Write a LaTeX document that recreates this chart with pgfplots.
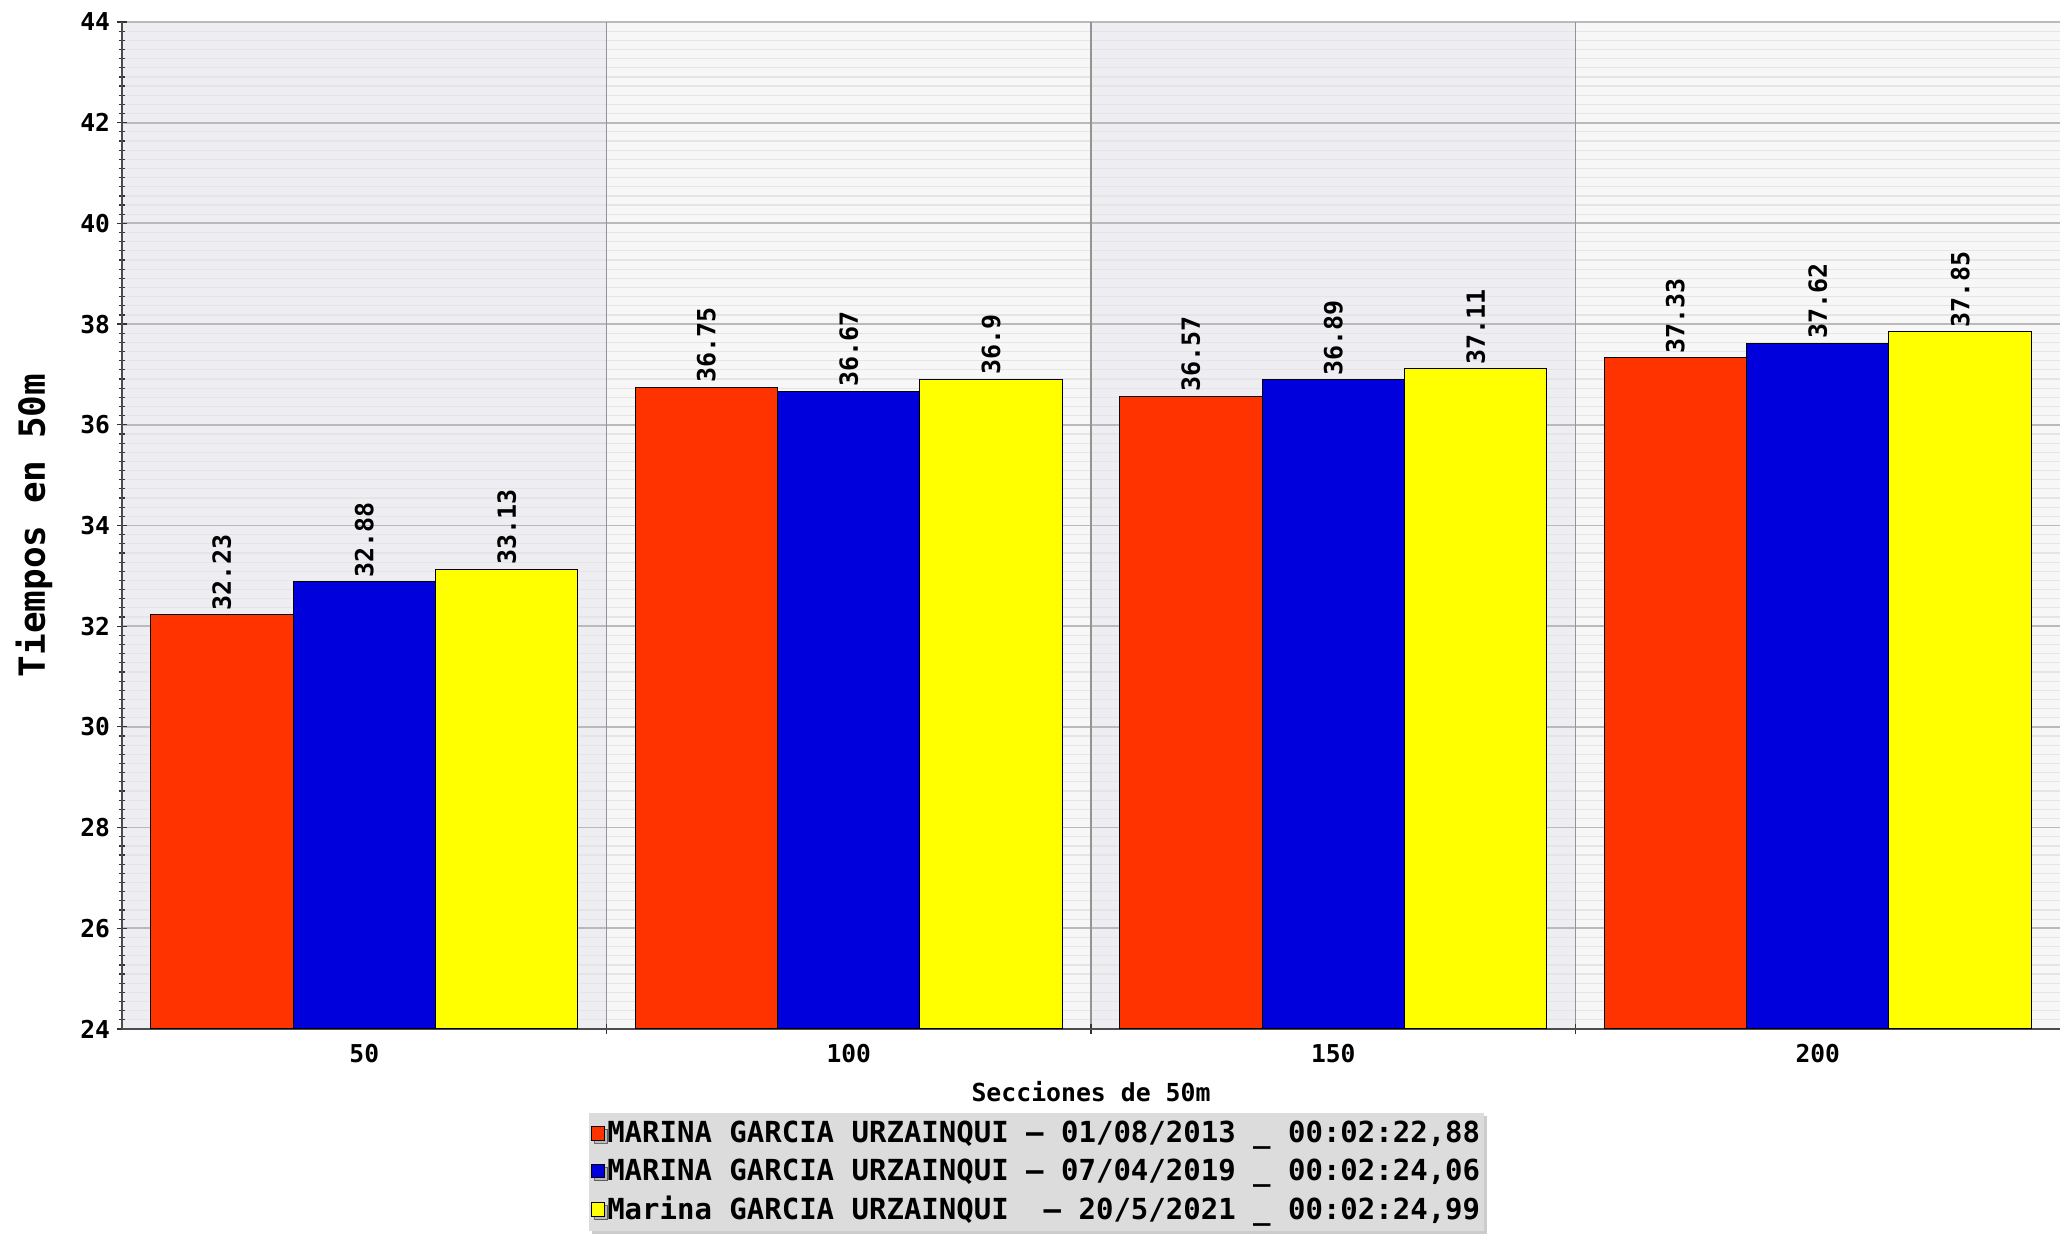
\documentclass[border=0pt]{standalone}
\usepackage{fontspec}
\setmainfont{DejaVu Sans Mono}
\usepackage{pgfplots}
\pgfplotsset{compat=1.18}
\usetikzlibrary{shadows}
\definecolor{cred}{HTML}{FF3300}
\definecolor{cblue}{HTML}{0000DD}
\definecolor{cyellow}{HTML}{FFFF00}
\definecolor{bandA}{HTML}{EDEDF2}
\definecolor{bandB}{HTML}{F7F7F7}
\definecolor{legbg}{HTML}{DCDCDC}
\pgfplotsset{sqleg/.style={legend image code/.code={\draw[##1,line width=0.5pt] (0.5pt,-3.4pt) rectangle (7pt,3.4pt);}}}
\begin{document}
\begin{tikzpicture}
\begin{axis}[
  at={(0pt,0pt)}, anchor=south west,
  scale only axis, width=969pt, height=503.5pt,
  set layers=standard,
  xmin=-0.5, xmax=3.5, ymin=24, ymax=44,
  ybar=0pt, bar width=0.294,
  axis x line*=bottom, axis y line*=left,
  axis line style={black!70, line width=0.8pt},
  xtick={0.5,1.5,2.5}, xticklabels={},
  extra x ticks={0,1,2,3}, extra x tick labels={50,100,150,200},
  extra x tick style={major tick length=0pt},
  ytick={24,26,...,44},
  minor y tick num=10,
  ymajorgrids, yminorgrids,
  major grid style={draw=black!27, line width=0.9pt},
  minor grid style={draw=black!10, line width=0.6pt},
  tick style={black!80, line width=0.6pt},
  major tick length=5pt, minor tick length=3.5pt,
  tick align=center,
  ticklabel style={font=\bfseries\fontsize{12.3}{14}\selectfont},
  xticklabel style={yshift=-4pt},
  /pgf/number format/assume math mode=true,
  xlabel={Secciones de 50m},
  xlabel style={font=\bfseries\fontsize{12.4}{14}\selectfont, at={(axis description cs:0.5,-0.0626)}, anchor=center},
  ylabel={Tiempos en 50m},
  ylabel style={font=\bfseries\fontsize{18}{20}\selectfont, at={(axis description cs:-0.0454,0.5)}, anchor=center},
  point meta=explicit symbolic,
  nodes near coords,
  nodes near coords style={rotate=90, anchor=west, font=\bfseries\fontsize{12.5}{14}\selectfont, inner sep=2pt, black},
  legend style={at={(0.472,-0.083)}, anchor=north, fill=legbg, draw=none,
    drop shadow={shadow xshift=1.5pt, shadow yshift=-1.5pt, fill=black!40},
    font=\bfseries\fontsize{14.5}{16}\selectfont,
    inner xsep=1pt, inner ysep=2pt, row sep=2.6pt,
    nodes={inner xsep=1pt}},
  legend cell align=left,
]
\begin{pgfonlayer}{axis background}
\fill[bandA] (axis cs:-0.5,24) rectangle (axis cs:0.5,44);
\fill[bandB] (axis cs:0.5,24) rectangle (axis cs:1.5,44);
\fill[bandA] (axis cs:1.5,24) rectangle (axis cs:2.5,44);
\fill[bandB] (axis cs:2.5,24) rectangle (axis cs:3.5,44);
\end{pgfonlayer}
\begin{pgfonlayer}{axis grid}
\draw[black!42, line width=0.6pt] (axis cs:0.5,24) -- (axis cs:0.5,44);
\draw[black!42, line width=0.6pt] (axis cs:1.5,24) -- (axis cs:1.5,44);
\draw[black!42, line width=0.6pt] (axis cs:2.5,24) -- (axis cs:2.5,44);
\end{pgfonlayer}
\addplot[fill=cred, draw=black, line width=0.5pt, sqleg] coordinates {(0,32.23) [32.23] (1,36.75) [36.75] (2,36.57) [36.57] (3,37.33) [37.33]};
\addlegendentry{MARINA GARCIA URZAINQUI – 01/08/2013 \_ 00:02:22,88}
\addplot[fill=cblue, draw=black, line width=0.5pt, sqleg] coordinates {(0,32.88) [32.88] (1,36.67) [36.67] (2,36.89) [36.89] (3,37.62) [37.62]};
\addlegendentry{MARINA GARCIA URZAINQUI – 07/04/2019 \_ 00:02:24,06}
\addplot[fill=cyellow, draw=black, line width=0.5pt, sqleg] coordinates {(0,33.13) [33.13] (1,36.9) [36.9] (2,37.11) [37.11] (3,37.85) [37.85]};
\addlegendentry{Marina GARCIA URZAINQUI\ \ – 20/5/2021 \_ 00:02:24,99}
\end{axis}
\pgfresetboundingbox
\path (-61pt,-103pt) rectangle (969pt,514.5pt);
\end{tikzpicture}
\end{document}
